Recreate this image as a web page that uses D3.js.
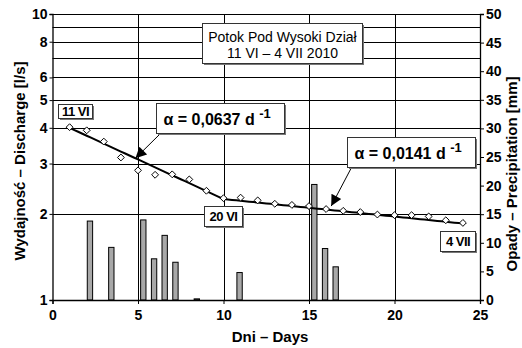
<!DOCTYPE html>
<html>
<head>
<meta charset="utf-8">
<script src="https://cdn.jsdelivr.net/npm/d3@7"></script>
<style>
  html, body { margin: 0; padding: 0; background: #fff; }
  svg { display: block; font-family: "Liberation Sans", Arial, sans-serif; }
  svg text { font-family: "Liberation Sans", Arial, sans-serif; }
  .tick text { font-weight: bold; font-size: 14px; }
</style>
</head>
<body>
<svg id="chart" width="522" height="348"></svg>
<script>
// Daily spring discharge, Potok Pod Wysoki Dział, 11 VI – 4 VII 2010
const days = [1,2,3,4,5,6,7,8,9,10,11,12,13,14,15,16,17,18,19,20,21,22,23,24];
const discharge = [4.02,3.92,3.58,3.15,2.84,2.74,2.75,2.64,2.41,2.27,2.28,2.23,2.17,2.15,2.13,2.08,2.05,2.03,1.99,1.98,1.98,1.96,1.90,1.86];

// Daily precipitation totals (mm), placed on half-day bins
const precipDays = [2.19,3.44,5.31,5.94,6.56,7.19,8.44,10.94,15.31,15.94,16.56];
const precip = [13.8,9.2,14.0,7.2,11.3,6.6,0.2,4.8,20.2,9.0,5.8];
const precipBinWidth = 0.3125;

// Recession segments: Q(t) = Q0 * exp(-alpha * (t - t0))
const segStart = [1, 10];
const segEnd = [10, 24];
const alphas = [0.0637, 0.0141];
const recessionQ0 = 4.0;

// Axis ticks
const xTicks = [0,5,10,15,20,25];
const qTicks = [1,2,3,4,5,6,8,10];
const qGrid = [1,2,3,4,5,6,7,8,9,10];
const pTicks = [0,5,10,15,20,25,30,35,40,45,50];

// Date labels on the hydrograph
const dateLabels = ["11 VI", "20 VI", "4 VII"];

const svg = d3.select("#chart");
const L = 52.5, R = 480, T = 14, B = 300;

const x = d3.scaleLinear().domain([0, 25]).range([L, R]);
const yQ = d3.scaleLog().domain([1, 10]).range([B, T]);
const yP = d3.scaleLinear().domain([0, 50]).range([B, T]);

// Grid
const grid = svg.append("g").attr("stroke", "#000").attr("stroke-width", 1);
grid.selectAll("line.h").data(qGrid).join("line")
  .attr("x1", L).attr("x2", R)
  .attr("y1", d => Math.round(yQ(d)) + 0.5).attr("y2", d => Math.round(yQ(d)) + 0.5);
grid.selectAll("line.v").data([5,10,15,20]).join("line")
  .attr("y1", T).attr("y2", B)
  .attr("x1", d => Math.round(x(d)) + 0.5).attr("x2", d => Math.round(x(d)) + 0.5);

// Precipitation bars
const bw = x(precipBinWidth) - x(0);
svg.append("g").selectAll("rect").data(precipDays).join("rect")
  .attr("x", (d) => x(d) - bw / 2)
  .attr("width", bw)
  .attr("y", (d, i) => yP(precip[i]))
  .attr("height", (d, i) => B - yP(precip[i]))
  .attr("fill", "#a8a8a8").attr("stroke", "#000").attr("stroke-width", 1);

// Recession fit lines
let q0 = recessionQ0;
const segs = segStart.map((s, i) => {
  const a = alphas[i], start = q0;
  const pts = d3.range(s, segEnd[i] + 0.001, 0.25).map(t => [t, start * Math.exp(-a * (t - s))]);
  q0 = start * Math.exp(-a * (segEnd[i] - s));
  return { pts, start, a, s };
});
const fitQ = t => {
  const i = t <= segEnd[0] ? 0 : 1;
  return segs[i].start * Math.exp(-segs[i].a * (t - segs[i].s));
};
const line = d3.line().x(d => x(d[0])).y(d => yQ(d[1]));
svg.append("g").selectAll("path").data(segs).join("path")
  .attr("d", d => line(d.pts))
  .attr("fill", "none").attr("stroke", "#000").attr("stroke-width", 2);

// Discharge points
const diamond = d3.symbol().type(d3.symbolDiamond2).size(30);
svg.append("g").selectAll("path").data(days).join("path")
  .attr("d", diamond)
  .attr("transform", (d, i) => `translate(${x(d)},${yQ(discharge[i])})`)
  .attr("fill", "#fff").attr("stroke", "#000").attr("stroke-width", 1);

// Axes
const xAxis = svg.append("g").attr("transform", `translate(0,${B})`)
  .call(d3.axisBottom(x).tickValues(xTicks).tickSize(4).tickPadding(5).tickFormat(d3.format("d")));
const yAxisL = svg.append("g").attr("transform", `translate(${L},0)`)
  .call(d3.axisLeft(yQ).tickValues(qTicks).tickSize(3).tickPadding(2).tickFormat(d3.format("d")));
const yAxisR = svg.append("g").attr("transform", `translate(${R},0)`)
  .call(d3.axisRight(yP).tickValues(pTicks).tickSize(4).tickPadding(2).tickFormat(d3.format("d")));
[xAxis, yAxisL, yAxisR].forEach(g => {
  g.attr("font-family", null).attr("font-size", null);
  g.select(".domain").attr("stroke", "#000").attr("stroke-width", 1.3);
  g.selectAll(".tick line").attr("stroke", "#000");
  g.selectAll(".tick text").attr("fill", "#000");
});
xAxis.selectAll(".tick text").attr("dy", "0.75em");

// Axis titles
svg.append("text").attr("transform", "translate(25,161) rotate(-90)")
  .attr("text-anchor", "middle").attr("font-weight", "bold").attr("font-size", 15)
  .text("Wydajność – Discharge  [l/s]");
svg.append("text").attr("transform", "translate(517,174) rotate(-90)")
  .attr("text-anchor", "middle").attr("font-weight", "bold").attr("font-size", 15)
  .text("Opady – Precipitation  [mm]");
svg.append("text").attr("x", 270).attr("y", 342)
  .attr("text-anchor", "middle").attr("font-weight", "bold").attr("font-size", 15)
  .text("Dni – Days");

// Boxed annotation helper
function box(x0, y0, w, h) {
  svg.append("rect").attr("x", x0 + 1.5).attr("y", y0 + 1.5).attr("width", w).attr("height", h)
    .attr("fill", "#777");
  svg.append("rect").attr("x", x0).attr("y", y0).attr("width", w).attr("height", h)
    .attr("fill", "#fff").attr("stroke", "#333").attr("stroke-width", 1);
}

// Title box
box(202.5, 23.5, 160, 40);
const title = svg.append("text").attr("text-anchor", "middle").attr("font-size", 14);
title.append("tspan").attr("x", 282.5).attr("y", 41.5).text("Potok Pod Wysoki Dział");
title.append("tspan").attr("x", 282.5).attr("y", 58).text("11 VI – 4 VII 2010");

// Date labels
const dateBoxes = [[58.5, 104.5, 34, 14], [204.5, 206.5, 38, 20], [440.5, 231.5, 35, 20]];
dateBoxes.forEach((b, i) => {
  box(b[0], b[1], b[2], b[3]);
  svg.append("text").attr("x", b[0] + b[2] / 2).attr("y", b[1] + b[3] / 2 + 4.5)
    .attr("text-anchor", "middle").attr("font-weight", "bold").attr("font-size", 13)
    .attr("letter-spacing", -0.5).text(dateLabels[i]);
});

// Recession coefficient labels with arrows
const fmtAlpha = a => "α = " + a.toFixed(4).replace(".", ",") + " d ";
const alphaBoxes = [[156.5, 103.5, 128, 30], [347.5, 137.5, 128, 30]];
const arrowTips = [4.85, 16.3];
const defs = svg.append("defs");
defs.append("marker").attr("id", "head").attr("viewBox", "0 0 10 10")
  .attr("refX", 10).attr("refY", 5).attr("markerWidth", 14).attr("markerHeight", 11)
  .attr("markerUnits", "userSpaceOnUse").attr("orient", "auto")
  .append("path").attr("d", "M0,0 L10,5 L0,10 Z").attr("fill", "#000");
alphas.forEach((a, i) => {
  const b = alphaBoxes[i];
  const tx = x(arrowTips[i]), ty = yQ(fitQ(arrowTips[i])) - (i === 1 ? 4 : 0);
  svg.append("line").attr("x1", b[0] + 4).attr("y1", b[1] + b[3])
    .attr("x2", tx).attr("y2", ty)
    .attr("stroke", "#000").attr("stroke-width", 1).attr("marker-end", "url(#head)");
  box(b[0], b[1], b[2], b[3]);
  const t = svg.append("text").attr("x", b[0] + 7).attr("y", b[1] + 21)
    .attr("font-weight", "bold").attr("font-size", 16);
  t.append("tspan").text(fmtAlpha(a));
  t.append("tspan").attr("dy", -7).attr("font-size", 13).text("-1");
});
</script>
</body>
</html>
